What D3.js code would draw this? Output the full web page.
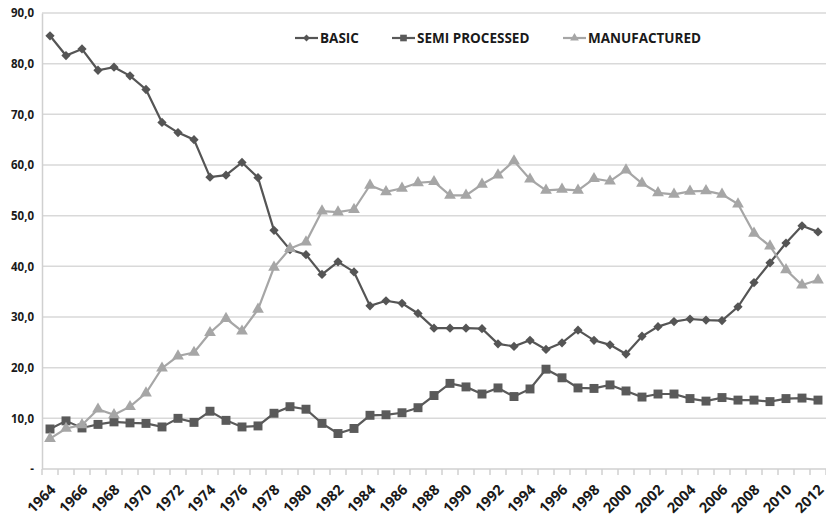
<!DOCTYPE html>
<html>
<head>
<meta charset="utf-8">
<script src="https://cdn.jsdelivr.net/npm/d3@7"></script>
<style>
  body { margin: 0; background: #fff; }
  text { font-family: "Open Sans", "Liberation Sans", sans-serif; font-weight: bold; fill: #1a1a1a; }
</style>
</head>
<body>
<div id="chart"></div>
<script>
var years = d3.range(1964, 2013);

var basic = [85.5, 81.6, 82.9, 78.7, 79.3, 77.6, 74.9, 68.4, 66.4, 65.0, 57.6, 58.0, 60.5, 57.5, 47.1,
    43.3, 42.3, 38.4, 40.9, 38.9, 32.2, 33.2, 32.7, 30.7, 27.8, 27.8, 27.8, 27.7, 24.7, 24.2,
    25.4, 23.6, 24.9, 27.4, 25.4, 24.5, 22.7, 26.2, 28.1, 29.1, 29.6, 29.4, 29.3, 32.0, 36.8,
    40.7, 44.6, 48.0, 46.8];

var semi = [7.9, 9.5, 8.1, 8.8, 9.3, 9.1, 9.0, 8.3, 10.0, 9.2, 11.4, 9.6, 8.3, 8.5, 11.0,
    12.3, 11.8, 9.0, 7.0, 8.0, 10.6, 10.7, 11.1, 12.1, 14.5, 16.9, 16.2, 14.8, 16.0, 14.3,
    15.8, 19.7, 18.0, 16.0, 15.9, 16.6, 15.4, 14.2, 14.8, 14.8, 13.9, 13.4, 14.1, 13.6, 13.6,
    13.3, 13.9, 14.0, 13.6];

var manufactured = [6.0, 8.0, 8.7, 11.8, 10.7, 12.3, 15.0, 19.9, 22.3, 23.0, 26.9, 29.7, 27.2, 31.5, 39.8,
    43.5, 44.8, 50.9, 50.7, 51.2, 56.0, 54.7, 55.4, 56.5, 56.7, 54.0, 54.0, 56.2, 58.0, 60.8,
    57.2, 55.0, 55.2, 55.0, 57.3, 56.8, 59.0, 56.4, 54.5, 54.2, 54.8, 54.9, 54.2, 52.3, 46.5,
    44.0, 39.3, 36.3, 37.3];

var seriesNames = ["BASIC", "SEMI PROCESSED", "MANUFACTURED"];
var yTicks = [0, 10, 20, 30, 40, 50, 60, 70, 80, 90];

var width = 826, height = 519;
var margin = { top: 13, right: 0, bottom: 50, left: 42 };
var innerW = width - margin.left - margin.right,
    innerH = height - margin.top - margin.bottom;

var svg = d3.select("#chart").append("svg")
    .attr("width", width).attr("height", height);
var g = svg.append("g")
    .attr("transform", "translate(" + margin.left + "," + margin.top + ")");

var x = d3.scaleBand().domain(years).range([0, innerW]).padding(0);
var y = d3.scaleLinear().domain([0, 90]).range([innerH, 0]);
var cx = function (d, i) { return x(years[i]) + x.bandwidth() / 2; };

// gridlines
g.append("g")
    .selectAll("line").data(yTicks.filter(function (d) { return d > 0; })).enter()
    .append("line")
    .attr("x1", 0).attr("x2", innerW)
    .attr("y1", function (d) { return y(d); }).attr("y2", function (d) { return y(d); })
    .attr("stroke", "#d9d9d9").attr("stroke-width", 1.5);

// y axis
var yAxis = g.append("g")
    .call(d3.axisLeft(y).tickValues(yTicks).tickSize(0).tickPadding(6)
        .tickFormat(function (d) { return d === 0 ? "-" : d3.format(".1f")(d).replace(".", ","); }));
yAxis.select(".domain").attr("stroke", "#d0d0d0").attr("stroke-width", 1.5);
yAxis.selectAll("text").style("font-size", "11.5px").attr("dx", -2);

// x axis with ticks at category boundaries
var xg = g.append("g").attr("transform", "translate(0," + innerH + ")");
xg.append("line").attr("x1", 0).attr("x2", innerW)
    .attr("stroke", "#d0d0d0").attr("stroke-width", 1.5);
xg.selectAll("line.tick").data(years.concat([2013])).enter()
    .append("line").attr("class", "tick")
    .attr("x1", function (d) { return d === 2013 ? innerW : x(d); })
    .attr("x2", function (d) { return d === 2013 ? innerW : x(d); })
    .attr("y1", 0).attr("y2", 6)
    .attr("stroke", "#d0d0d0").attr("stroke-width", 1.5);
xg.selectAll("text").data(years.filter(function (d) { return d % 2 === 0; })).enter()
    .append("text")
    .attr("transform", function (d) {
        return "translate(" + (x(d) + x.bandwidth() / 2 + 3) + ",18) rotate(-45)";
    })
    .style("text-anchor", "end")
    .style("font-size", "14.5px")
    .attr("dy", "0.35em")
    .text(function (d) { return d; });

var line = d3.line()
    .x(cx)
    .y(function (d) { return y(d); });

var styles = [
    { data: basic, color: "#555555", symbol: d3.symbolDiamond2, size: 55 },
    { data: semi, color: "#5a5a5a", symbol: d3.symbolSquare, size: 80 },
    { data: manufactured, color: "#a6a6a6", symbol: d3.symbolTriangle, size: 60 }
];

// draw lines, then markers
styles.forEach(function (s) {
    g.append("path").datum(s.data)
        .attr("d", line)
        .attr("fill", "none")
        .attr("stroke", s.color)
        .attr("stroke-width", 2.2);
    g.append("g").selectAll("path").data(s.data).enter()
        .append("path")
        .attr("d", d3.symbol().type(s.symbol).size(s.size))
        .attr("transform", function (d, i) { return "translate(" + cx(d, i) + "," + y(d) + ")"; })
        .attr("fill", s.color);
});

// legend
var legendX = [295, 392, 563];
var legend = svg.append("g");
seriesNames.forEach(function (name, i) {
    var s = styles[i];
    var lg = legend.append("g").attr("transform", "translate(" + legendX[i] + ",38)");
    lg.append("line").attr("x1", 0).attr("x2", 23)
        .attr("stroke", s.color).attr("stroke-width", 2.2);
    lg.append("path")
        .attr("d", d3.symbol().type(s.symbol).size(s.size * 0.55))
        .attr("transform", "translate(11.5,0)")
        .attr("fill", s.color);
    lg.append("text").attr("x", 25).attr("dy", "0.36em")
        .style("font-size", "13.5px")
        .text(name);
});
</script>
</body>
</html>
